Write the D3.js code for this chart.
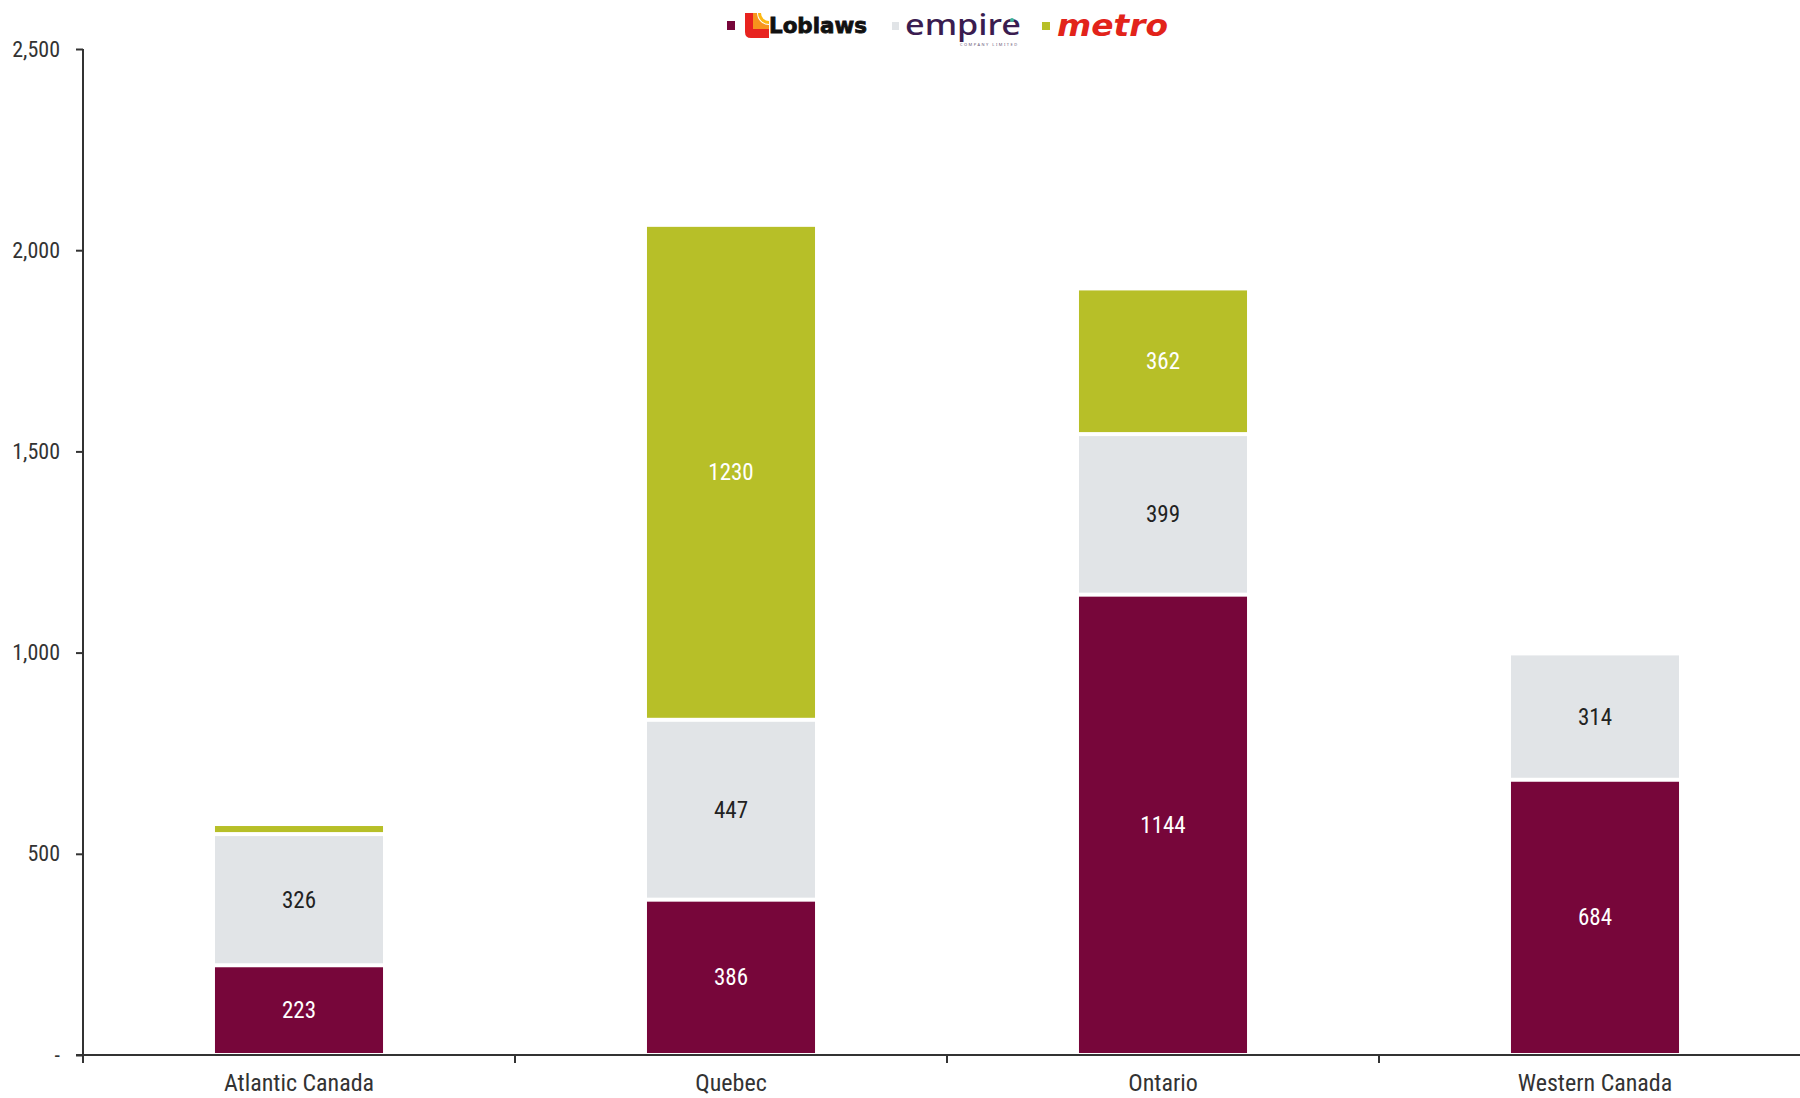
<!DOCTYPE html>
<html>
<head>
<meta charset="utf-8">
<script src="https://cdn.jsdelivr.net/npm/d3@7"></script>
<style>
  html, body { margin: 0; padding: 0; background: #fff; }
  svg { display: block; }
  .narrow { font-family: "Liberation Sans Narrow", "Arial Narrow", "Roboto Condensed", sans-serif; }
</style>
</head>
<body>
<svg id="chart" width="1800" height="1098"></svg>
<script>
// Store counts by region, stacked by grocer
const regions = ["Atlantic Canada", "Quebec", "Ontario", "Western Canada"];
const seriesNames = ["Loblaws", "Empire", "Metro"];
const loblaws = [223, 386, 1144, 684];
const empire = [326, 447, 399, 314];
const metro = [25, 1230, 362, 0];
const labelled = [[true, true, true, true], [true, true, true, true], [false, true, true, false]];
const yTicks = [0, 500, 1000, 1500, 2000, 2500];
const yTickLabels = ["-", "500", "1,000", "1,500", "2,000", "2,500"];
const colors = ["#77063A", "#E1E4E7", "#B7BF28"];
const labelColors = ["#ffffff", "#222222", "#ffffff"];

const svg = d3.select("#chart");
const x0 = 83, x1 = 1811, yBase = 1055, yTop = 49;

const x = d3.scaleBand().domain(regions).range([x0, x1]).padding(0);
const y = d3.scaleLinear().domain([0, 2500]).range([yBase, yTop]);

const rows = regions.map((r, i) => ({ region: r, Loblaws: loblaws[i], Empire: empire[i], Metro: metro[i] }));
const stacked = d3.stack().keys(seriesNames)(rows);

const barW = x.bandwidth() * 0.389;
const gap = 2;

stacked.forEach((layer, si) => {
  const g = svg.append("g");
  layer.forEach((d, i) => {
    const v = d[1] - d[0];
    if (v <= 0) return;
    const cx = x(regions[i]) + x.bandwidth() / 2;
    const top = y(d[1]) + gap;
    const bottom = si === 0 ? y(d[0]) - 2 : y(d[0]) - gap;
    g.append("rect")
      .attr("x", cx - barW / 2)
      .attr("width", barW)
      .attr("y", top)
      .attr("height", Math.max(0, bottom - top))
      .attr("fill", colors[si]);
    if (labelled[si][i]) {
      g.append("text")
        .attr("class", "narrow")
        .attr("x", cx)
        .attr("y", (y(d[0]) + y(d[1])) / 2)
        .attr("dy", "0.35em")
        .attr("text-anchor", "middle")
        .attr("font-size", 23)
        .attr("fill", labelColors[si])
        .text(v);
    }
  });
});

// Y axis
const yAxis = d3.axisLeft(y).tickValues(yTicks).tickFormat((d, i) => yTickLabels[i]).tickSize(7).tickPadding(16);
const gy = svg.append("g").attr("transform", `translate(${x0},0)`).call(yAxis);
gy.select(".domain").attr("d", `M0,${yTop}V${yBase + 8}`).attr("stroke", "#333").attr("stroke-width", 2);
gy.selectAll(".tick line").attr("stroke", "#333").attr("stroke-width", 2);
gy.selectAll(".tick text").attr("class", "narrow").attr("font-size", 22).attr("fill", "#333");

// X axis
const xAxis = d3.axisBottom(x).tickSize(0).tickPadding(19);
const gx = svg.append("g").attr("transform", `translate(0,${yBase})`).call(xAxis);
gx.select(".domain").attr("d", `M76,0H1800`).attr("stroke", "#333").attr("stroke-width", 2);
gx.selectAll(".tick text").attr("class", "narrow").attr("font-size", 24).attr("fill", "#333");
// category separators
svg.append("g").selectAll("line")
  .data(regions.slice(1))
  .join("line")
  .attr("x1", d => x(d)).attr("x2", d => x(d))
  .attr("y1", yBase).attr("y2", yBase + 8)
  .attr("stroke", "#333").attr("stroke-width", 2);

// Legend
const lg = svg.append("g");
lg.append("rect").attr("x", 727).attr("y", 21).attr("width", 8).attr("height", 9).attr("fill", colors[0]);
// Loblaws mark
const logo = lg.append("g").attr("transform", "translate(745,13)");
logo.append("path").attr("d", "M0,0 H8 V16 H24 V25 H6 Q0,25 0,19 Z").attr("fill", "#E8231F");
logo.append("path").attr("d", "M8,0 H12 A12,12 0 0 0 24,12 V16 H8 Z").attr("fill", "#F7941D");
logo.append("path").attr("d", "M13,0 H16 A8,8 0 0 0 24,8 V11 A11,11 0 0 1 13,0 Z").attr("fill", "#FDB913");
lg.append("text").attr("x", 769).attr("y", 33)
  .attr("font-family", "DejaVu Sans").attr("font-weight", "bold").attr("font-size", 21)
  .attr("stroke", "#111").attr("stroke-width", 0.8)
  .attr("textLength", 98).attr("lengthAdjust", "spacingAndGlyphs").attr("fill", "#111").text("Loblaws");

lg.append("rect").attr("x", 892).attr("y", 22).attr("width", 7).attr("height", 8).attr("fill", colors[1]);
lg.append("text").attr("x", 905).attr("y", 35)
  .attr("font-family", "Noto Sans").attr("font-weight", "500").attr("font-size", 29)
  .attr("textLength", 116).attr("lengthAdjust", "spacingAndGlyphs").attr("fill", "#3A1C50").text("empire");
lg.append("circle").attr("cx", 1012).attr("cy", 20).attr("r", 2).attr("fill", "#3BB39A");
lg.append("text").attr("x", 960).attr("y", 46)
  .attr("font-family", "Noto Sans").attr("font-size", 4).attr("letter-spacing", 1.5)
  .attr("fill", "#6a5a78").text("COMPANY LIMITED");

lg.append("rect").attr("x", 1042).attr("y", 22).attr("width", 8).attr("height", 8).attr("fill", colors[2]);
lg.append("text").attr("x", 1057).attr("y", 36)
  .attr("font-family", "DejaVu Sans").attr("font-weight", "bold").attr("font-style", "italic").attr("font-size", 30)
  .attr("textLength", 111).attr("lengthAdjust", "spacingAndGlyphs").attr("fill", "#E2231A").text("metro");
</script>
</body>
</html>
